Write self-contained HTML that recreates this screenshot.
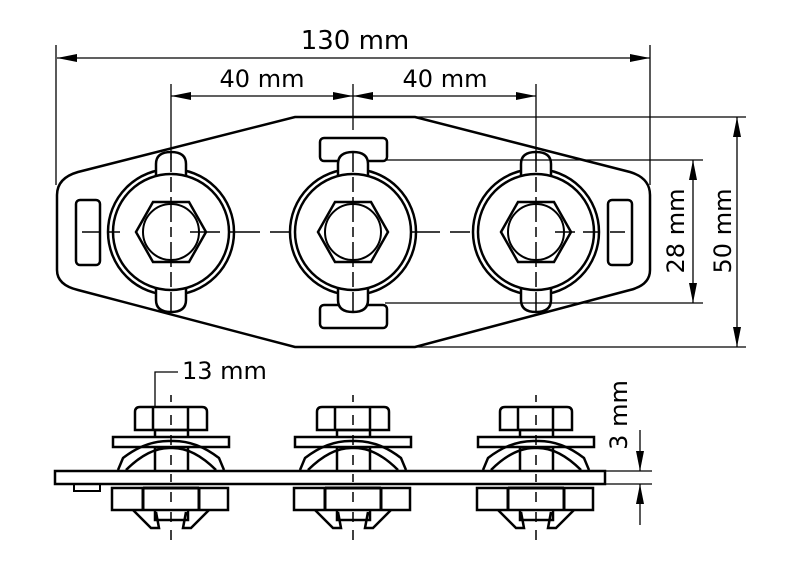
<!DOCTYPE html>
<html><head><style>html,body{margin:0;padding:0;background:#fff}svg{display:block}text{font-family:"DejaVu Sans","Liberation Sans",sans-serif;fill:#000}</style></head>
<body>
<svg width="800" height="576" viewBox="0 0 800 576" xmlns="http://www.w3.org/2000/svg">
<defs>
<marker id="a" viewBox="0 0 20 8" refX="20" refY="4" markerWidth="20" markerHeight="8" markerUnits="userSpaceOnUse" orient="auto-start-reverse"><path d="M0,0 L20,4 L0,8z" fill="#000"/></marker>
<g id="top" fill="none" stroke="#000">
<circle r="63" stroke-width="2.5"/>
<path d="M-15,-55 V-68 Q-15,-80 0,-80 Q15,-80 15,-68 V-55 Z" stroke-width="2.5" fill="#fff"/>
<path d="M-15,55 V68 Q-15,80 0,80 Q15,80 15,68 V55 Z" stroke-width="2.5" fill="#fff"/>
<circle r="58" stroke-width="2.5" fill="#fff"/>
<path d="M-35,0 L-18,-30 L18,-30 L35,0 L18,30 L-18,30z" stroke-width="2.5"/>
<circle r="28" stroke-width="2"/>
<path d="M0,-80 V-60 M0,-55 V-40 M0,-35 V-10 M0,-5 V5 M0,10 V35 M0,40 V55 M0,60 V80" stroke-width="1.5"/>
</g>
<g id="side" fill="none" stroke="#000" stroke-width="2.5">
<path d="M-36,430 V412 Q-36,407 -31,407 H31 Q36,407 36,412 V430 Z" fill="#fff"/>
<path d="M-18,407 V430 M17,407 V430"/>
<rect x="-16" y="430" width="33" height="17"/>
<rect x="-58" y="437" width="116" height="10" fill="#fff"/>
<path d="M-53,470 L-48,458 Q-25,440 0,441 Q25,440 48,458 L53,470"/>
<path d="M-45,470 Q-22,447 0,448 Q22,447 45,470"/>
<path d="M-16,447 V470 M17,447 V470"/>
<rect x="-59" y="488" width="116" height="22"/>
<path d="M-28,488 V510 M28,488 V510 M-28,488 H28" stroke-width="3"/>
<path d="M-38,510 L-20,528 H-12 L-15,512 M38,510 L20,528 H12 L15,512 M-16,510 V520 H17 V510"/>
<path d="M0,395 V402 M0,415 V425 M0,435 V445 M0,455 V465 M0,474 V482 M0,492 V502 M0,512 V522 M0,530 V540" stroke-width="1.5"/>
</g>
</defs>

<path d="M295,117 H415 L630,172 Q650,178 650,195 V270 Q650,285 630,290 L415,347 H295 L78,290 Q57,285 57,270 V195 Q57,178 78,172 Z" fill="none" stroke="#000" stroke-width="2.5"/>
<rect x="76" y="200" width="24" height="65" rx="4" fill="none" stroke="#000" stroke-width="2.5"/>
<rect x="608" y="200" width="24" height="65" rx="4" fill="none" stroke="#000" stroke-width="2.5"/>
<rect x="320" y="138" width="67" height="23" rx="4" fill="none" stroke="#000" stroke-width="2.5"/>
<rect x="320" y="305" width="67" height="23" rx="4" fill="none" stroke="#000" stroke-width="2.5"/>
<use href="#top" x="171" y="232"/>
<use href="#top" x="353" y="232"/>
<use href="#top" x="536" y="232"/>
<path d="M82,232 H100 M108,232 H120 M190,232 H220 M230,232 H260 M270,232 H290 M410,232 H440 M450,232 H470 M555,232 H575 M583,232 H598 M610,232 H625" stroke="#000" stroke-width="1.5"/>

<g stroke="#000" stroke-width="1.3" fill="none">
<path d="M56,45 V185 M650,45 V185"/>
<path d="M57,58 H650" marker-start="url(#a)" marker-end="url(#a)"/>
<path d="M171,84 V160 M353,84 V130 M536,84 V160"/>
<path d="M171,96 H353" marker-start="url(#a)" marker-end="url(#a)"/>
<path d="M353,96 H536" marker-start="url(#a)" marker-end="url(#a)"/>
<path d="M415,117 H746 M415,347 H746"/>
<path d="M737,117 V347" marker-start="url(#a)" marker-end="url(#a)"/>
<path d="M385,160 H703 M385,303 H703"/>
<path d="M693,160 V303" marker-start="url(#a)" marker-end="url(#a)"/>
</g>
<text x="355" y="49" font-size="26" text-anchor="middle">130 mm</text>
<text x="262" y="87" font-size="24" text-anchor="middle">40 mm</text>
<text x="445" y="87" font-size="24" text-anchor="middle">40 mm</text>
<text transform="translate(684,231) rotate(-90)" font-size="24" text-anchor="middle">28 mm</text>
<text transform="translate(731,231) rotate(-90)" font-size="24" text-anchor="middle">50 mm</text>

<rect x="55" y="471" width="550" height="13" fill="none" stroke="#000" stroke-width="2.5"/>
<rect x="74" y="484" width="26" height="7" fill="none" stroke="#000" stroke-width="2"/>
<use href="#side" x="171"/>
<use href="#side" x="353"/>
<use href="#side" x="536"/>
<path d="M155,407 V372 H178" stroke="#000" stroke-width="1.3" fill="none"/>
<text x="182" y="379" font-size="24">13 mm</text>
<g stroke="#000" stroke-width="1.3" fill="none">
<path d="M605,471 H652 M605,484 H652"/>
<path d="M640,430 V471" marker-end="url(#a)"/>
<path d="M640,525 V484" marker-end="url(#a)"/>
</g>
<text transform="translate(627,415) rotate(-90)" font-size="24" text-anchor="middle">3 mm</text>
</svg>
</body></html>
